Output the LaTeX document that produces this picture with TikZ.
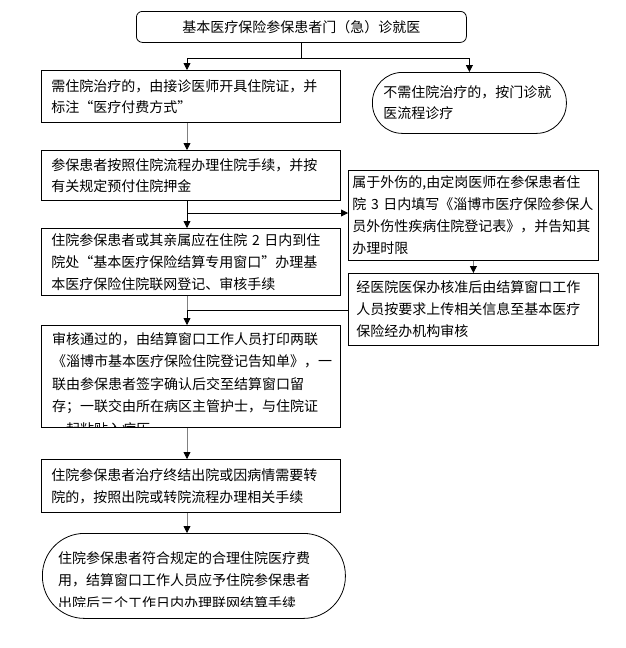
\documentclass[tikz,border=0pt]{standalone}
\usepackage{fontspec}
\setmainfont{Noto Sans CJK SC}
\usetikzlibrary{arrows.meta,calc}
\tikzset{
  base/.style={draw=black, line width=0.8pt, anchor=north west, inner ysep=0pt, align=left,
    font=\fontsize{14}{22}\selectfont},
  wbox/.style={base, minimum width=299pt, text width=279pt, inner xsep=10pt},
  rbox/.style={base, minimum width=250pt, text width=242pt, inner xsep=4pt},
  txt/.style={anchor=north west, inner sep=0pt, align=left, font=\fontsize{14}{22.5}\selectfont},
  arr/.style={line width=0.8pt, -{Triangle[length=7pt,width=7pt,color=black,fill=black]}},
  ln/.style={line width=0.8pt, draw=black},
  gln/.style={line width=0.8pt, draw=gray},
}
\begin{document}
\begin{tikzpicture}[x=1pt,y=-1pt]
\useasboundingbox[fill=white] (0,0) rectangle (625,648);
\coordinate (spine) at (187,0);

% top
\node[base, rounded corners=6pt, minimum width=330pt, minimum height=31pt, align=center, inner xsep=0pt]
  (top) at (136,11) {基本医疗保险参保患者门（急）诊就医};
\coordinate (j0) at (301,58);

% left column
\node[wbox, minimum height=52pt, font=\fontsize{14}{21}\selectfont] (b2) at (41,70)
  {需住院治疗的，由接诊医师开具住院证，并\\标注“医疗付费方式”};
\node[base, rounded corners=30pt, minimum width=194pt, minimum height=61pt, text width=172pt, inner xsep=11pt,
  font=\fontsize{14}{21}\selectfont] (e2) at (372,72)
  {不需住院治疗的，按门诊就\\医流程诊疗};
\node[wbox, minimum height=50pt, font=\fontsize{14}{21}\selectfont] (b3) at (41,150)
  {参保患者按照住院流程办理住院手续，并按\\有关规定预付住院押金};
\node[wbox, minimum height=67pt] (b4) at (41,228)
  {住院参保患者或其亲属应在住院~2~日内到住\\院处“基本医疗保险结算专用窗口”办理基\\本医疗保险住院联网登记、审核手续};

% right column
\node[rbox, minimum height=90pt] (ra) at (348,170)
  {属于外伤的,由定岗医师在参保患者住\\院~3~日内填写《淄博市医疗保险参保人\\员外伤性疾病住院登记表》，并告知其\\办理时限};
\node[rbox, minimum height=72pt, inner xsep=8pt, text width=234pt] (rb) at (348,273)
  {经医院医保办核准后由结算窗口工作\\人员按要求上传相关信息至基本医疗\\保险经办机构审核};

% box 5 (text clipped)
\node[wbox, minimum height=102pt] (b5) at (41,325) {};
\begin{scope}
  \clip (b5.north west) rectangle ($(b5.south east)+(0,-1)$);
  \node[txt] (t5) at (52,332)
  {审核通过的，由结算窗口工作人员打印两联\\《淄博市基本医疗保险住院登记告知单》，一\\联由参保患者签字确认后交至结算窗口留\\存；一联交由所在病区主管护士，与住院证\\一起粘贴入病历};
\end{scope}

\node[wbox, minimum height=53pt] (b6) at (41,459)
  {住院参保患者治疗终结出院或因病情需要转\\院的，按照出院或转院流程办理相关手续};

% final stadium (text clipped)
\node[base, rounded corners=42pt, minimum width=303pt, minimum height=85pt] (e7) at (42,533) {};
\begin{scope}
  \clip (42,533) rectangle (345,606);
  \node[txt] (t7) at (58,551)
  {住院参保患者符合规定的合理住院医疗费\\用，结算窗口工作人员应予住院参保患者\\出院后三个工作日内办理联网结算手续};
\end{scope}

% connectors
\draw[ln] (top.south -| j0) -- (j0);
\draw[arr] (j0) -| (b2.north -| spine);
\draw[arr] (j0) -| (e2.north);
\draw[arr, gray] (b2.south -| spine) -- (b3.north -| spine);
\coordinate (j1) at (187,213);
\draw[ln] (b3.south -| spine) -- (j1);
\draw[arr] (j1) -- (b4.north -| spine);
\draw[arr] (j1) -- (j1 -| ra.west);
\draw[arr, gray] (ra.south) -- (rb.north);
\coordinate (j2) at (187,310);
\draw[gln] (b4.south -| spine) -- (j2);
\draw[ln] (j2 -| rb.west) -- (j2);
\draw[arr] (j2) -- (b5.north -| spine);
\draw[arr, gray] (b5.south -| spine) -- (b6.north -| spine);
\draw[arr, gray] (b6.south -| spine) -- (e7.north -| spine);
\end{tikzpicture}
\end{document}
